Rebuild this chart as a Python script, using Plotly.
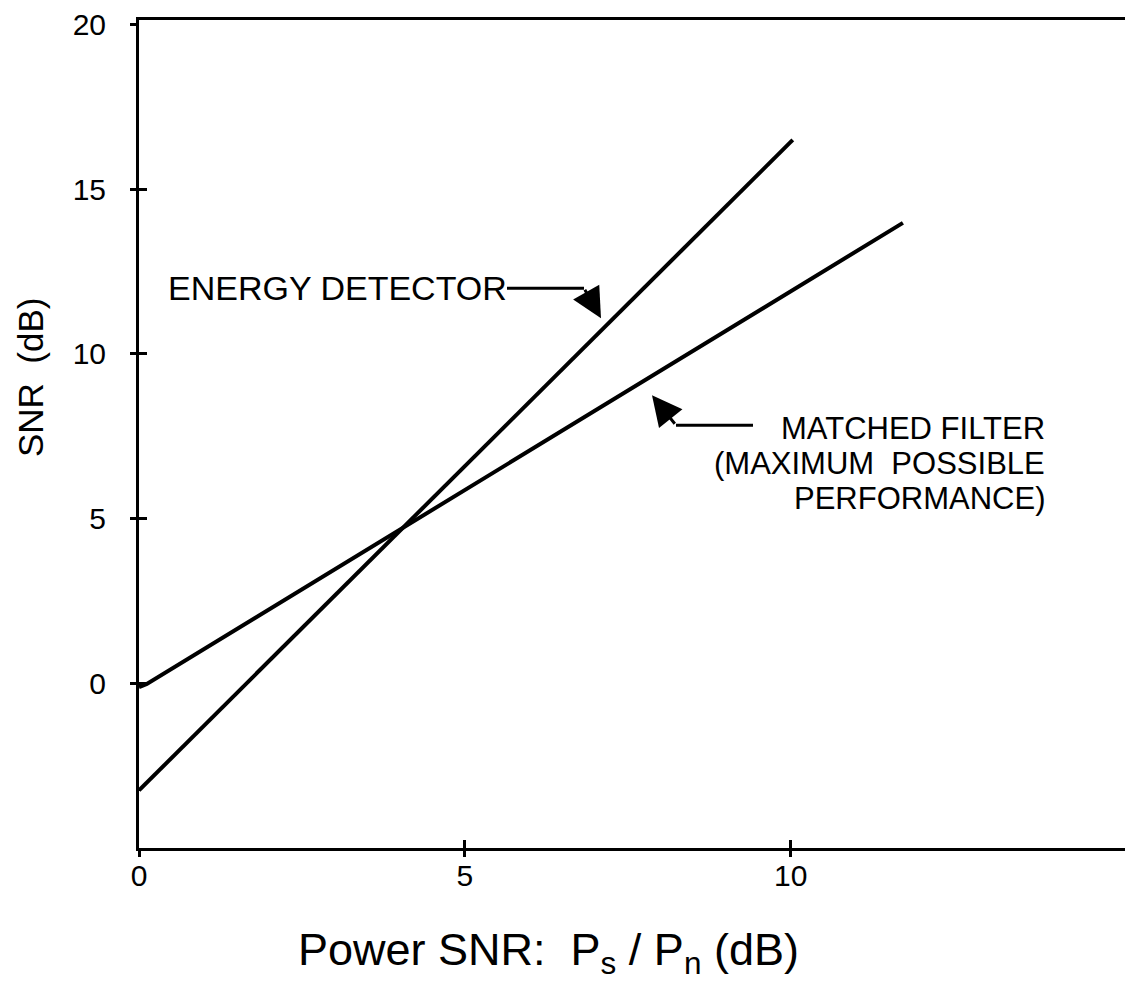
import plotly.graph_objects as go

# ---- data ----
energy_x = [0.0, 10.03]
energy_y = [-3.25, 16.5]
matched_x = [0.0, 0.12, 11.72]
matched_y = [-0.12, -0.02, 13.98]

x_tickvals = [0, 5, 10]
x_ticktext = ["0", "5", "10"]
y_tickvals = [0, 5, 10, 15, 20]
y_ticktext = ["0", "5", "10", "15", "20"]

x_title = "Power SNR:  P<sub>s</sub> / P<sub>n</sub> (dB)"
y_title = "SNR  (dB)"

x_range = [0, 15.25]
y_range = [-5.0, 20.14]

FONT = "Liberation Sans, Arial, Helvetica, sans-serif"
BLACK = "#000000"

# page body has an 8px margin; plot area is placed so that on screen it spans
# x 139..1133 and y 20..848
W, H = 1125, 985
ML, MT, MB = 131, 12, 145
PW, PH = W - ML, H - MT - MB

fig = go.Figure()
fig.add_trace(go.Scatter(x=energy_x, y=energy_y, mode="lines",
                         line=dict(color=BLACK, width=4), hoverinfo="skip",
                         name="Energy detector"))
fig.add_trace(go.Scatter(x=matched_x, y=matched_y, mode="lines",
                         line=dict(color=BLACK, width=4), hoverinfo="skip",
                         name="Matched filter"))
# invisible trace to activate the overlay axes used for inward tick halves
fig.add_trace(go.Scatter(x=energy_x, y=energy_y, mode="lines", xaxis="x2", yaxis="y2",
                         line=dict(color="rgba(0,0,0,0)", width=0), hoverinfo="skip",
                         showlegend=False))

# screen pixel -> data helpers for annotation placement
def px2x(px):
    return (px - 139) / 65.18

def py2y(py):
    return (683 - py) / 32.93

# screen pixel -> paper
def px2p(px):
    return (px - 139) / PW

def py2p(py):
    return (848 - py) / PH

annotations = [
    dict(x=px2x(166), y=py2y(288), xref="x", yref="y", text="ENERGY DETECTOR",
         showarrow=False, xanchor="left", yanchor="middle",
         font=dict(family=FONT, size=34, color=BLACK)),
    # energy detector arrowhead
    dict(x=px2x(601), y=py2y(318), xref="x", yref="y", ax=-17, ay=-30,
         axref="pixel", ayref="pixel", text="", showarrow=True,
         arrowhead=2, arrowsize=2.0, arrowwidth=3, arrowcolor=BLACK),
    dict(x=px2x(1047), y=py2y(428), xref="x", yref="y", text="MATCHED FILTER",
         showarrow=False, xanchor="right", yanchor="middle",
         font=dict(family=FONT, size=31, color=BLACK)),
    dict(x=px2x(1047), y=py2y(463), xref="x", yref="y", text="(MAXIMUM  POSSIBLE",
         showarrow=False, xanchor="right", yanchor="middle",
         font=dict(family=FONT, size=31, color=BLACK)),
    dict(x=px2x(1047), y=py2y(498), xref="x", yref="y", text="PERFORMANCE)",
         showarrow=False, xanchor="right", yanchor="middle",
         font=dict(family=FONT, size=31, color=BLACK)),
    # matched filter arrowhead
    dict(x=px2x(652), y=py2y(395), xref="x", yref="y", ax=24, ay=30,
         axref="pixel", ayref="pixel", text="", showarrow=True,
         arrowhead=2, arrowsize=2.0, arrowwidth=3, arrowcolor=BLACK),
    # axis titles
    dict(x=px2p(30), y=py2p(378), xref="paper", yref="paper", text=y_title,
         textangle=-90, showarrow=False, xanchor="center", yanchor="middle",
         font=dict(family=FONT, size=35, color=BLACK)),
    dict(x=px2p(548), y=py2p(953), xref="paper", yref="paper", text=x_title,
         showarrow=False, xanchor="center", yanchor="middle",
         font=dict(family=FONT, size=45, color=BLACK)),
]

shapes = [
    dict(type="line", xref="x", yref="y", x0=px2x(507), y0=py2y(288),
         x1=px2x(584), y1=py2y(288), line=dict(color=BLACK, width=3)),
    dict(type="line", xref="x", yref="y", x0=px2x(676), y0=py2y(425),
         x1=px2x(753), y1=py2y(425), line=dict(color=BLACK, width=3)),
]

fig.update_layout(
    width=W, height=H,
    margin=dict(l=ML, r=0, t=MT, b=MB, pad=0),
    plot_bgcolor="white", paper_bgcolor="white",
    showlegend=False,
    font=dict(family=FONT, color=BLACK),
    annotations=annotations,
    shapes=shapes,
    xaxis=dict(range=x_range, tickvals=x_tickvals, ticktext=x_ticktext, automargin=False,
               showgrid=False, zeroline=False, showline=True, mirror=True,
               linecolor=BLACK, linewidth=3, ticks="outside", ticklen=6,
               tickwidth=2.5, tickcolor=BLACK, ticklabelstandoff=-7,
               tickfont=dict(family=FONT, size=30, color=BLACK)),
    yaxis=dict(range=y_range, tickvals=y_tickvals, ticktext=y_ticktext, automargin=False,
               showgrid=False, zeroline=False, showline=True, mirror=False,
               linecolor=BLACK, linewidth=3, ticks="outside", ticklen=6,
               tickwidth=2.5, tickcolor=BLACK, ticklabelstandoff=18,
               tickfont=dict(family=FONT, size=30, color=BLACK)),
    xaxis2=dict(range=x_range, overlaying="x", side="bottom", tickvals=x_tickvals[1:],
                showticklabels=False, showgrid=False, zeroline=False, showline=False,
                automargin=False,
                ticks="inside", ticklen=8, tickwidth=2.5, tickcolor=BLACK),
    yaxis2=dict(range=y_range, overlaying="y", side="left", tickvals=y_tickvals[:-1],
                showticklabels=False, showgrid=False, zeroline=False, showline=False,
                automargin=False,
                ticks="inside", ticklen=8, tickwidth=2.5, tickcolor=BLACK),
)

fig.write_html("out.html")
